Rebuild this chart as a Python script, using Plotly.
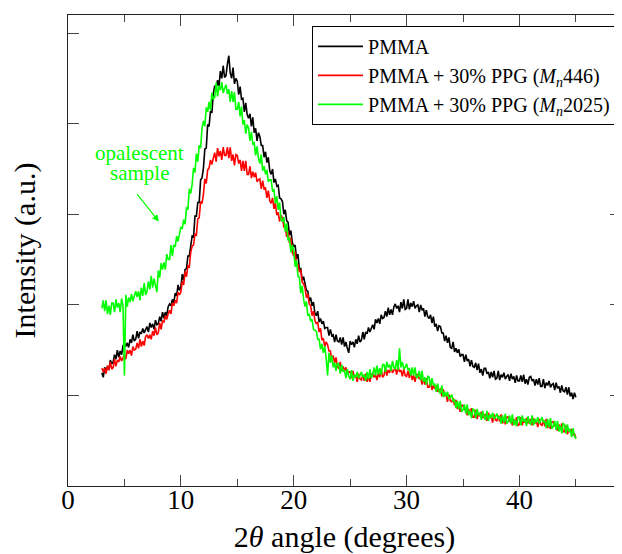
import plotly.graph_objects as go

# XRD patterns, one value every 0.125 degrees from 2theta = 3 to 45
angle_start = 3.0
angle_step = 0.125

pmma = [
    1.25, 1.20, 1.31, 1.27, 1.32, 1.28, 1.39, 1.35,  # 3
    1.37, 1.45, 1.40, 1.50, 1.42, 1.49, 1.45, 1.55,  # 4
    1.57, 1.54, 1.58, 1.53, 1.62, 1.58, 1.67, 1.60,  # 5
    1.62, 1.71, 1.63, 1.70, 1.68, 1.74, 1.69, 1.73,  # 6
    1.76, 1.70, 1.80, 1.75, 1.79, 1.73, 1.83, 1.78,  # 7
    1.79, 1.87, 1.82, 1.92, 1.85, 1.92, 1.88, 1.98,  # 8
    2.01, 1.99, 2.06, 2.02, 2.13, 2.10, 2.22, 2.16,  # 9
    2.20, 2.34, 2.27, 2.39, 2.40, 2.54, 2.54, 2.65,  # 10
    2.76, 2.75, 2.98, 2.98, 3.13, 3.13, 3.38, 3.40,  # 11
    3.51, 3.72, 3.73, 3.99, 3.97, 4.14, 4.12, 4.33,  # 12
    4.42, 4.39, 4.48, 4.41, 4.58, 4.50, 4.64, 4.51,  # 13
    4.53, 4.66, 4.75, 4.56, 4.50, 4.62, 4.44, 4.50,  # 14
    4.47, 4.32, 4.41, 4.27, 4.28, 4.13, 4.23, 4.10,  # 15
    4.06, 4.11, 3.97, 4.07, 3.90, 3.95, 3.81, 3.90,  # 16
    3.86, 3.76, 3.76, 3.63, 3.69, 3.57, 3.63, 3.48,  # 17
    3.44, 3.50, 3.35, 3.39, 3.31, 3.32, 3.18, 3.17,  # 18
    3.14, 3.00, 3.05, 2.93, 2.91, 2.77, 2.82, 2.69,  # 19
    2.64, 2.66, 2.51, 2.56, 2.39, 2.40, 2.27, 2.31,  # 20
    2.25, 2.16, 2.15, 2.04, 2.08, 1.99, 2.03, 1.91,  # 21
    1.88, 1.93, 1.81, 1.85, 1.79, 1.82, 1.74, 1.75,  # 22
    1.75, 1.66, 1.73, 1.66, 1.67, 1.59, 1.67, 1.60,  # 23
    1.59, 1.64, 1.56, 1.64, 1.54, 1.59, 1.52, 1.47,  # 24
    1.60, 1.56, 1.59, 1.53, 1.62, 1.57, 1.66, 1.59,  # 25
    1.61, 1.70, 1.62, 1.70, 1.68, 1.75, 1.70, 1.75,  # 26
    1.78, 1.73, 1.84, 1.80, 1.85, 1.79, 1.89, 1.85,  # 27
    1.86, 1.93, 1.87, 1.97, 1.89, 1.95, 1.89, 1.98,  # 28
    2.01, 1.96, 1.99, 1.92, 2.03, 1.96, 2.06, 1.95,  # 29
    1.96, 2.06, 1.95, 2.02, 1.98, 2.04, 1.96, 1.99,  # 30
    2.00, 1.92, 2.00, 1.94, 1.96, 1.87, 1.94, 1.87,  # 31
    1.85, 1.89, 1.80, 1.87, 1.76, 1.79, 1.71, 1.77,  # 32
    1.76, 1.69, 1.69, 1.60, 1.66, 1.58, 1.64, 1.53,  # 33
    1.52, 1.59, 1.48, 1.52, 1.47, 1.51, 1.43, 1.45,  # 34
    1.45, 1.37, 1.45, 1.38, 1.40, 1.32, 1.39, 1.32,  # 35
    1.31, 1.36, 1.28, 1.35, 1.25, 1.29, 1.22, 1.30,  # 36
    1.30, 1.24, 1.26, 1.19, 1.26, 1.20, 1.27, 1.18,  # 37
    1.19, 1.27, 1.17, 1.23, 1.20, 1.25, 1.18, 1.21,  # 38
    1.23, 1.16, 1.24, 1.18, 1.21, 1.14, 1.22, 1.16,  # 39
    1.16, 1.22, 1.15, 1.23, 1.13, 1.18, 1.12, 1.20,  # 40
    1.21, 1.16, 1.18, 1.11, 1.18, 1.12, 1.19, 1.10,  # 41
    1.10, 1.18, 1.08, 1.14, 1.11, 1.16, 1.09, 1.12,  # 42
    1.13, 1.06, 1.14, 1.08, 1.10, 1.03, 1.11, 1.05,  # 43
    1.04, 1.09, 1.01, 1.09, 0.99, 1.03, 0.96, 1.03,  # 44
    0.98,
]

ppg_446 = [
    1.30, 1.26, 1.30, 1.24, 1.33, 1.28, 1.37, 1.29,  # 3
    1.31, 1.40, 1.32, 1.39, 1.37, 1.43, 1.38, 1.42,  # 4
    1.45, 1.40, 1.50, 1.46, 1.50, 1.44, 1.54, 1.50,  # 5
    1.51, 1.58, 1.52, 1.62, 1.54, 1.60, 1.55, 1.65,  # 6
    1.67, 1.63, 1.67, 1.62, 1.71, 1.66, 1.75, 1.67,  # 7
    1.69, 1.80, 1.73, 1.82, 1.81, 1.88, 1.84, 1.90,  # 8
    1.94, 1.90, 2.02, 1.99, 2.05, 2.02, 2.14, 2.11,  # 9
    2.14, 2.26, 2.22, 2.37, 2.31, 2.43, 2.42, 2.58,  # 10
    2.65, 2.66, 2.78, 2.77, 2.95, 2.96, 3.14, 3.12,  # 11
    3.22, 3.39, 3.34, 3.49, 3.51, 3.60, 3.55, 3.62,  # 12
    3.68, 3.58, 3.73, 3.64, 3.70, 3.60, 3.74, 3.65,  # 13
    3.65, 3.74, 3.62, 3.74, 3.59, 3.66, 3.54, 3.66,  # 14
    3.65, 3.56, 3.60, 3.48, 3.59, 3.48, 3.59, 3.44,  # 15
    3.44, 3.53, 3.40, 3.47, 3.41, 3.46, 3.36, 3.38,  # 16
    3.39, 3.28, 3.37, 3.28, 3.29, 3.18, 3.26, 3.15,  # 17
    3.12, 3.18, 3.06, 3.13, 2.99, 3.02, 2.92, 2.99,  # 18
    2.96, 2.86, 2.86, 2.75, 2.81, 2.68, 2.74, 2.58,  # 19
    2.54, 2.59, 2.43, 2.45, 2.37, 2.38, 2.25, 2.23,  # 20
    2.19, 2.08, 2.12, 2.01, 1.99, 1.88, 1.93, 1.83,  # 21
    1.79, 1.81, 1.70, 1.74, 1.61, 1.63, 1.54, 1.59,  # 22
    1.56, 1.49, 1.49, 1.39, 1.44, 1.36, 1.42, 1.31,  # 23
    1.30, 1.37, 1.27, 1.32, 1.27, 1.31, 1.24, 1.26,  # 24
    1.26, 1.19, 1.27, 1.20, 1.22, 1.15, 1.24, 1.18,  # 25
    1.17, 1.23, 1.16, 1.24, 1.15, 1.21, 1.15, 1.23,  # 26
    1.24, 1.20, 1.23, 1.17, 1.25, 1.20, 1.29, 1.20,  # 27
    1.22, 1.31, 1.22, 1.28, 1.25, 1.31, 1.25, 1.28,  # 28
    1.30, 1.23, 1.32, 1.26, 1.28, 1.21, 1.29, 1.22,  # 29
    1.21, 1.27, 1.19, 1.27, 1.17, 1.22, 1.15, 1.23,  # 30
    1.23, 1.18, 1.20, 1.12, 1.19, 1.12, 1.19, 1.09,  # 31
    1.09, 1.16, 1.06, 1.11, 1.07, 1.11, 1.04, 1.06,  # 32
    1.07, 0.99, 1.07, 1.00, 1.01, 0.93, 1.01, 0.94,  # 33
    0.93, 0.97, 0.89, 0.95, 0.85, 0.89, 0.82, 0.89,  # 34
    0.89, 0.84, 0.86, 0.78, 0.85, 0.79, 0.86, 0.76,  # 35
    0.76, 0.84, 0.74, 0.80, 0.77, 0.82, 0.75, 0.78,  # 36
    0.79, 0.72, 0.81, 0.75, 0.77, 0.70, 0.79, 0.73,  # 37
    0.72, 0.78, 0.71, 0.79, 0.69, 0.74, 0.68, 0.76,  # 38
    0.76, 0.71, 0.74, 0.67, 0.74, 0.68, 0.76, 0.67,  # 39
    0.68, 0.76, 0.67, 0.73, 0.70, 0.75, 0.69, 0.72,  # 40
    0.74, 0.67, 0.75, 0.69, 0.72, 0.65, 0.74, 0.68,  # 41
    0.67, 0.73, 0.66, 0.74, 0.64, 0.69, 0.63, 0.71,  # 42
    0.71, 0.66, 0.68, 0.61, 0.68, 0.62, 0.69, 0.60,  # 43
    0.60, 0.67, 0.57, 0.63, 0.59, 0.63, 0.56, 0.58,  # 44
    0.53,
]

ppg_2025 = [
    1.96, 2.05, 1.93, 2.05, 1.90, 1.99, 1.89, 2.02,  # 3
    2.02, 1.92, 2.06, 1.97, 2.02, 1.92, 2.07, 1.99,  # 4
    1.22, 2.11, 1.98, 2.08, 2.03, 2.12, 2.04, 2.10,  # 5
    2.15, 2.09, 2.15, 2.05, 2.19, 2.10, 2.24, 2.11,  # 6
    2.15, 2.26, 2.17, 2.32, 2.19, 2.29, 2.21, 2.14,  # 7
    2.38, 2.30, 2.46, 2.39, 2.47, 2.39, 2.56, 2.50,  # 8
    2.50, 2.66, 2.54, 2.66, 2.64, 2.76, 2.70, 2.79,  # 9
    2.86, 2.84, 2.94, 2.89, 3.07, 3.06, 3.28, 3.23,  # 10
    3.33, 3.51, 3.46, 3.67, 3.58, 3.76, 3.73, 3.95,  # 11
    4.03, 3.97, 4.18, 4.13, 4.24, 4.15, 4.34, 4.27,  # 12
    4.29, 4.45, 4.30, 4.42, 4.37, 4.46, 4.34, 4.39,  # 13
    4.43, 4.33, 4.38, 4.24, 4.36, 4.24, 4.35, 4.16,  # 14
    4.16, 4.24, 4.08, 4.19, 3.99, 4.04, 3.89, 3.99,  # 15
    3.95, 3.81, 3.91, 3.78, 3.79, 3.65, 3.75, 3.62,  # 16
    3.56, 3.66, 3.48, 3.53, 3.44, 3.49, 3.36, 3.38,  # 17
    3.38, 3.26, 3.27, 3.12, 3.20, 3.05, 3.13, 2.94,  # 18
    2.92, 2.97, 2.81, 2.90, 2.71, 2.74, 2.58, 2.66,  # 19
    2.60, 2.42, 2.49, 2.32, 2.30, 2.13, 2.21, 2.06,  # 20
    1.98, 2.04, 1.88, 1.90, 1.82, 1.84, 1.73, 1.72,  # 21
    1.71, 1.62, 1.62, 1.51, 1.57, 1.47, 1.54, 1.41,  # 22
    1.22, 1.47, 1.36, 1.44, 1.31, 1.36, 1.27, 1.36,  # 23
    1.34, 1.24, 1.34, 1.26, 1.28, 1.19, 1.29, 1.21,  # 24
    1.18, 1.28, 1.16, 1.23, 1.20, 1.26, 1.19, 1.22,  # 25
    1.26, 1.20, 1.23, 1.16, 1.26, 1.18, 1.29, 1.19,  # 26
    1.23, 1.31, 1.22, 1.33, 1.23, 1.30, 1.23, 1.34,  # 27
    1.34, 1.26, 1.37, 1.31, 1.34, 1.27, 1.38, 1.31,  # 28
    1.29, 1.39, 1.28, 1.52, 1.31, 1.37, 1.29, 1.31,  # 29
    1.35, 1.28, 1.30, 1.22, 1.31, 1.22, 1.31, 1.19,  # 30
    1.21, 1.27, 1.17, 1.27, 1.15, 1.20, 1.12, 1.21,  # 31
    1.20, 1.10, 1.19, 1.11, 1.13, 1.04, 1.13, 1.05,  # 32
    1.02, 1.11, 0.98, 1.04, 0.99, 1.04, 0.96, 0.98,  # 33
    1.01, 0.94, 0.95, 0.86, 0.94, 0.85, 0.94, 0.82,  # 34
    0.84, 0.90, 0.80, 0.90, 0.78, 0.83, 0.75, 0.85,  # 35
    0.84, 0.75, 0.85, 0.78, 0.81, 0.73, 0.83, 0.76,  # 36
    0.73, 0.83, 0.72, 0.79, 0.75, 0.81, 0.74, 0.76,  # 37
    0.80, 0.74, 0.77, 0.69, 0.78, 0.70, 0.80, 0.69,  # 38
    0.71, 0.78, 0.69, 0.79, 0.67, 0.73, 0.66, 0.76,  # 39
    0.76, 0.67, 0.78, 0.71, 0.74, 0.66, 0.77, 0.70,  # 40
    0.68, 0.78, 0.67, 0.74, 0.70, 0.76, 0.69, 0.72,  # 41
    0.76, 0.70, 0.72, 0.64, 0.74, 0.65, 0.75, 0.63,  # 42
    0.66, 0.72, 0.62, 0.72, 0.60, 0.67, 0.58, 0.69,  # 43
    0.68, 0.58, 0.68, 0.60, 0.63, 0.54, 0.64, 0.56,  # 44
    0.52,
]

series = [
    ("PMMA", pmma, "#000000"),
    ("PMMA + 30% PPG (<i>M</i><sub><i>n</i></sub>446)", ppg_446, "#ff0000"),
    ("PMMA + 30% PPG (<i>M</i><sub><i>n</i></sub>2025)", ppg_2025, "#00ff00"),
]

x_ticks = [0, 10, 20, 30, 40]
y_ticks = [1, 2, 3, 4, 5]

FONT = "Liberation Serif"
GREEN = "#00ff00"

fig = go.Figure()
for name, values, color in series:
    fig.add_trace(go.Scatter(
        x0=angle_start, dx=angle_step, y=values, name=name, mode="lines",
        line=dict(color=color, width=1.6),
    ))

# note pointing at the raised green baseline
fig.add_annotation(x=6.33, y=3.68, text="opalescent", showarrow=False,
                   font=dict(family=FONT, size=21, color=GREEN))
fig.add_annotation(x=6.33, y=3.46, text="sample", showarrow=False,
                   font=dict(family=FONT, size=21, color=GREEN))
fig.add_annotation(x=8.05, y=2.92, text="", showarrow=True, ax=-23, ay=-29,
                   arrowhead=2, arrowsize=1.1, arrowwidth=1.2, arrowcolor=GREEN)

# the page body keeps its default 8px margin, so the figure is 8px smaller
fig.update_layout(
    width=614, height=546,
    margin=dict(l=60, r=1, t=7, b=68),
    plot_bgcolor="white", paper_bgcolor="white",
    font=dict(family=FONT, size=27, color="black"),
    showlegend=True,
    legend=dict(x=0.991, y=0.977, xanchor="right", yanchor="top",
                bgcolor="white", bordercolor="black", borderwidth=1,
                font=dict(family=FONT, size=20), itemwidth=45),
    xaxis=dict(
        range=[0, 49], tickvals=x_ticks, ticks="inside", ticklen=11,
        showline=True, linecolor="#222222", mirror="allticks", showgrid=False,
        zeroline=False, tickfont=dict(size=27), automargin=False,
        ticklabelstandoff=-10,
        minor=dict(dtick=5, tick0=0, ticks="inside", ticklen=7, showgrid=False),
        title=dict(text="2<i>θ</i> angle (degrees)", font=dict(size=30), standoff=22),
    ),
    yaxis=dict(
        range=[0, 5.2], tickvals=y_ticks, ticks="inside", ticklen=11,
        showticklabels=False, showline=True, linecolor="#222222",
        mirror="allticks", showgrid=False, zeroline=False, automargin=False,
        title=dict(text="Intensity (a.u.)", font=dict(size=30), standoff=22),
    ),
)

fig.write_html("out.html")
